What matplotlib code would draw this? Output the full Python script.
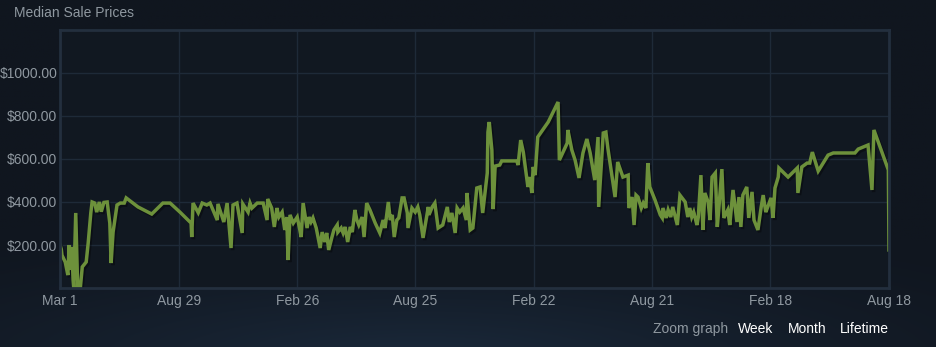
import matplotlib
matplotlib.use("Agg")
import matplotlib.pyplot as plt
import matplotlib.patheffects as pe
import numpy as np
import pandas as pd

# days after 2016-03-01 and median sale price (USD)
days = [
    0, 2, 3, 8, 12, 14, 15, 18, 20, 21, 24, 27, 31, 34, 40, 43, 47, 49, 53, 56,
    60, 63, 67, 72, 76, 78, 81, 87, 92, 98, 101, 107, 119, 140, 157, 168, 183,
    200, 201, 203, 211, 217, 224, 229, 240, 241, 250, 255, 261, 264, 270, 278,
    279, 287, 290, 293, 301, 310, 316, 317, 323, 327, 331, 334, 339, 343, 346,
    348, 351, 356, 362, 366,
    368, 371, 377, 380, 383, 386, 391, 397, 400, 404, 407, 410, 415, 418, 423,
    424, 429, 432, 435, 439, 443, 446, 450, 453, 456, 461, 464, 468, 473, 481,
    488, 493, 496, 501, 504, 507, 510, 514, 517, 522, 525, 530, 531, 537, 542,
    546, 549, 554, 562, 563, 568, 572, 577, 584, 591, 594, 598, 603, 606, 610,
    615, 620, 621, 626, 630, 636, 641, 645, 652, 653, 655, 659, 661, 664, 671,
    674, 697, 699, 703, 707, 714, 717, 720, 722, 725, 729,
    745, 760, 762, 774, 775, 781, 786, 792, 798, 804, 809, 816, 821, 822, 829,
    833, 836, 847, 851, 859, 867, 868, 873, 876, 879, 882, 887, 890, 894, 897,
    900, 908, 916,
    919, 920, 925, 928, 932, 935, 942, 946, 954, 958, 961, 964, 967, 972, 974,
    978, 981, 984, 989, 992, 995, 1000, 1003, 1006, 1010, 1013, 1019, 1022,
    1027, 1033, 1036, 1039, 1042, 1048, 1051, 1056, 1059, 1065, 1070, 1073,
    1077, 1080, 1085, 1088, 1091, 1096,
    1097, 1111, 1125, 1126, 1132, 1140, 1144, 1148, 1157, 1172, 1180, 1213,
    1218, 1233, 1239, 1242, 1264, 1265,
]
prices = [
    200, 180, 153, 121, 60, 200, 84, 191, 37, 0, 349, 0, 0, 98, 121, 209, 349,
    400, 395, 353, 400, 355, 398, 400, 302, 116, 260, 386, 395, 395, 419, 405,
    377, 344, 395, 395, 353,
    302, 237, 395, 350, 395, 386, 395, 316, 391, 307, 395, 186, 386, 395, 256,
    391, 353, 395, 372, 395, 395, 316, 414, 372, 284, 372, 330, 353, 270, 330,
    130, 340, 302, 330, 270,
    237, 395, 279, 330, 307, 326, 279, 186, 260, 214, 256, 177, 237, 270, 293,
    260, 279, 256, 284, 214, 284, 260, 363, 316, 293, 330, 237, 395, 363, 302,
    256, 316, 279, 400, 316, 340, 237, 316, 326, 419, 419, 349, 279, 372, 353,
    377, 340, 233, 377, 340, 377, 395, 279, 293, 377, 307, 349, 256, 372, 353,
    372, 316, 442, 270, 279, 465, 470, 349, 535, 725, 772, 642, 367, 567, 572,
    591, 591, 572, 688, 632, 470, 516, 442, 563, 525, 702,
    772, 865, 595, 674, 735, 642, 595, 512, 628, 693, 628, 502, 702, 377, 721,
    725, 651, 423, 586, 516, 525, 372, 423, 293, 432, 423, 372, 395, 372, 581,
    470, 409, 340,
    326, 372, 326, 363, 330, 377, 293, 432, 400, 330, 372, 330, 353, 293, 330,
    525, 270, 442, 400, 316, 516, 535, 284, 395, 553, 326, 363, 293, 456, 307,
    423, 284, 432, 470, 326, 447, 316, 270, 377, 432, 353, 377, 419, 326, 465,
    516,
    558, 516, 558, 442, 563, 581, 581, 632, 544, 618, 628, 628, 646, 665, 456,
    735, 549, 177,
]
tick_dates = ["2016-03-01", "2016-08-29", "2017-02-26", "2017-08-25",
              "2018-02-22", "2018-08-21", "2019-02-18", "2019-08-18"]
tick_labels = ["Mar 1", "Aug 29", "Feb 26", "Aug 25", "Feb 22", "Aug 21", "Feb 18", "Aug 18"]
y_ticks = [200, 400, 600, 800, 1000]

start = pd.Timestamp("2016-03-01")
dates = start + pd.to_timedelta(days, unit="D")
ticks = pd.to_datetime(tick_dates)

plt.rcParams["font.family"] = ["Liberation Sans", "DejaVu Sans"]

fig = plt.figure(figsize=(9.36, 3.47), dpi=100)

# background gradient
bg = fig.add_axes([0, 0, 1, 1])
bg.axis("off")
yy, xx = np.mgrid[0:1:200j, 0:1:400j]
glow = np.clip(1 - np.hypot((xx - 0.45) * 1.2, (yy - 1.05) * 2.2), 0, 1) ** 1.5
top = np.array([0x10, 0x16, 0x1f]) / 255
low = np.array([0x1b, 0x2a, 0x3c]) / 255
img = top[None, None, :] + (low - top)[None, None, :] * glow[..., None]
bg.imshow(img, aspect="auto", extent=[0, 1, 0, 1], origin="upper")
bg.set_xlim(0, 1)
bg.set_ylim(0, 1)

ax = fig.add_axes([60 / 936, 59 / 347, 829 / 936, 258 / 347])
ax.set_facecolor("#111821")
ax.plot(dates, prices, color="#6d913b", lw=2.5, solid_joinstyle="miter",
        path_effects=[pe.SimpleLineShadow(offset=(1.2, -1.5), shadow_color="black", alpha=0.35),
                      pe.Normal()])
ax.set_xlim(ticks[0], ticks[-1])
ax.set_ylim(0, 1200)
ax.set_xticks(ticks)
ax.set_xticklabels(tick_labels)
ax.set_yticks(y_ticks)
ax.set_yticklabels([f"${v:.2f}" for v in y_ticks])
ax.grid(True, color="#1e2a38", lw=1)
ax.set_axisbelow(True)
ax.tick_params(length=0, colors="#8f98a0", labelsize=10)
ax.tick_params(axis="y", pad=2)
ax.tick_params(axis="x", pad=4)
for s in ax.spines.values():
    s.set_color("#232f3e")
    s.set_linewidth(2)

fig.text(14 / 936, 1 - 13 / 347, "Median Sale Prices", color="#8f98a0", fontsize=10, va="center")
fig.text(728 / 936, 1 - 329 / 347, "Zoom graph", color="#8f98a0", fontsize=10, va="center", ha="right")
fig.text(738 / 936, 1 - 329 / 347, "Week", color="#ffffff", fontsize=10, va="center")
fig.text(788 / 936, 1 - 329 / 347, "Month", color="#ffffff", fontsize=10, va="center")
fig.text(840 / 936, 1 - 329 / 347, "Lifetime", color="#ffffff", fontsize=10, va="center")

fig.savefig("out.png", dpi=100)
